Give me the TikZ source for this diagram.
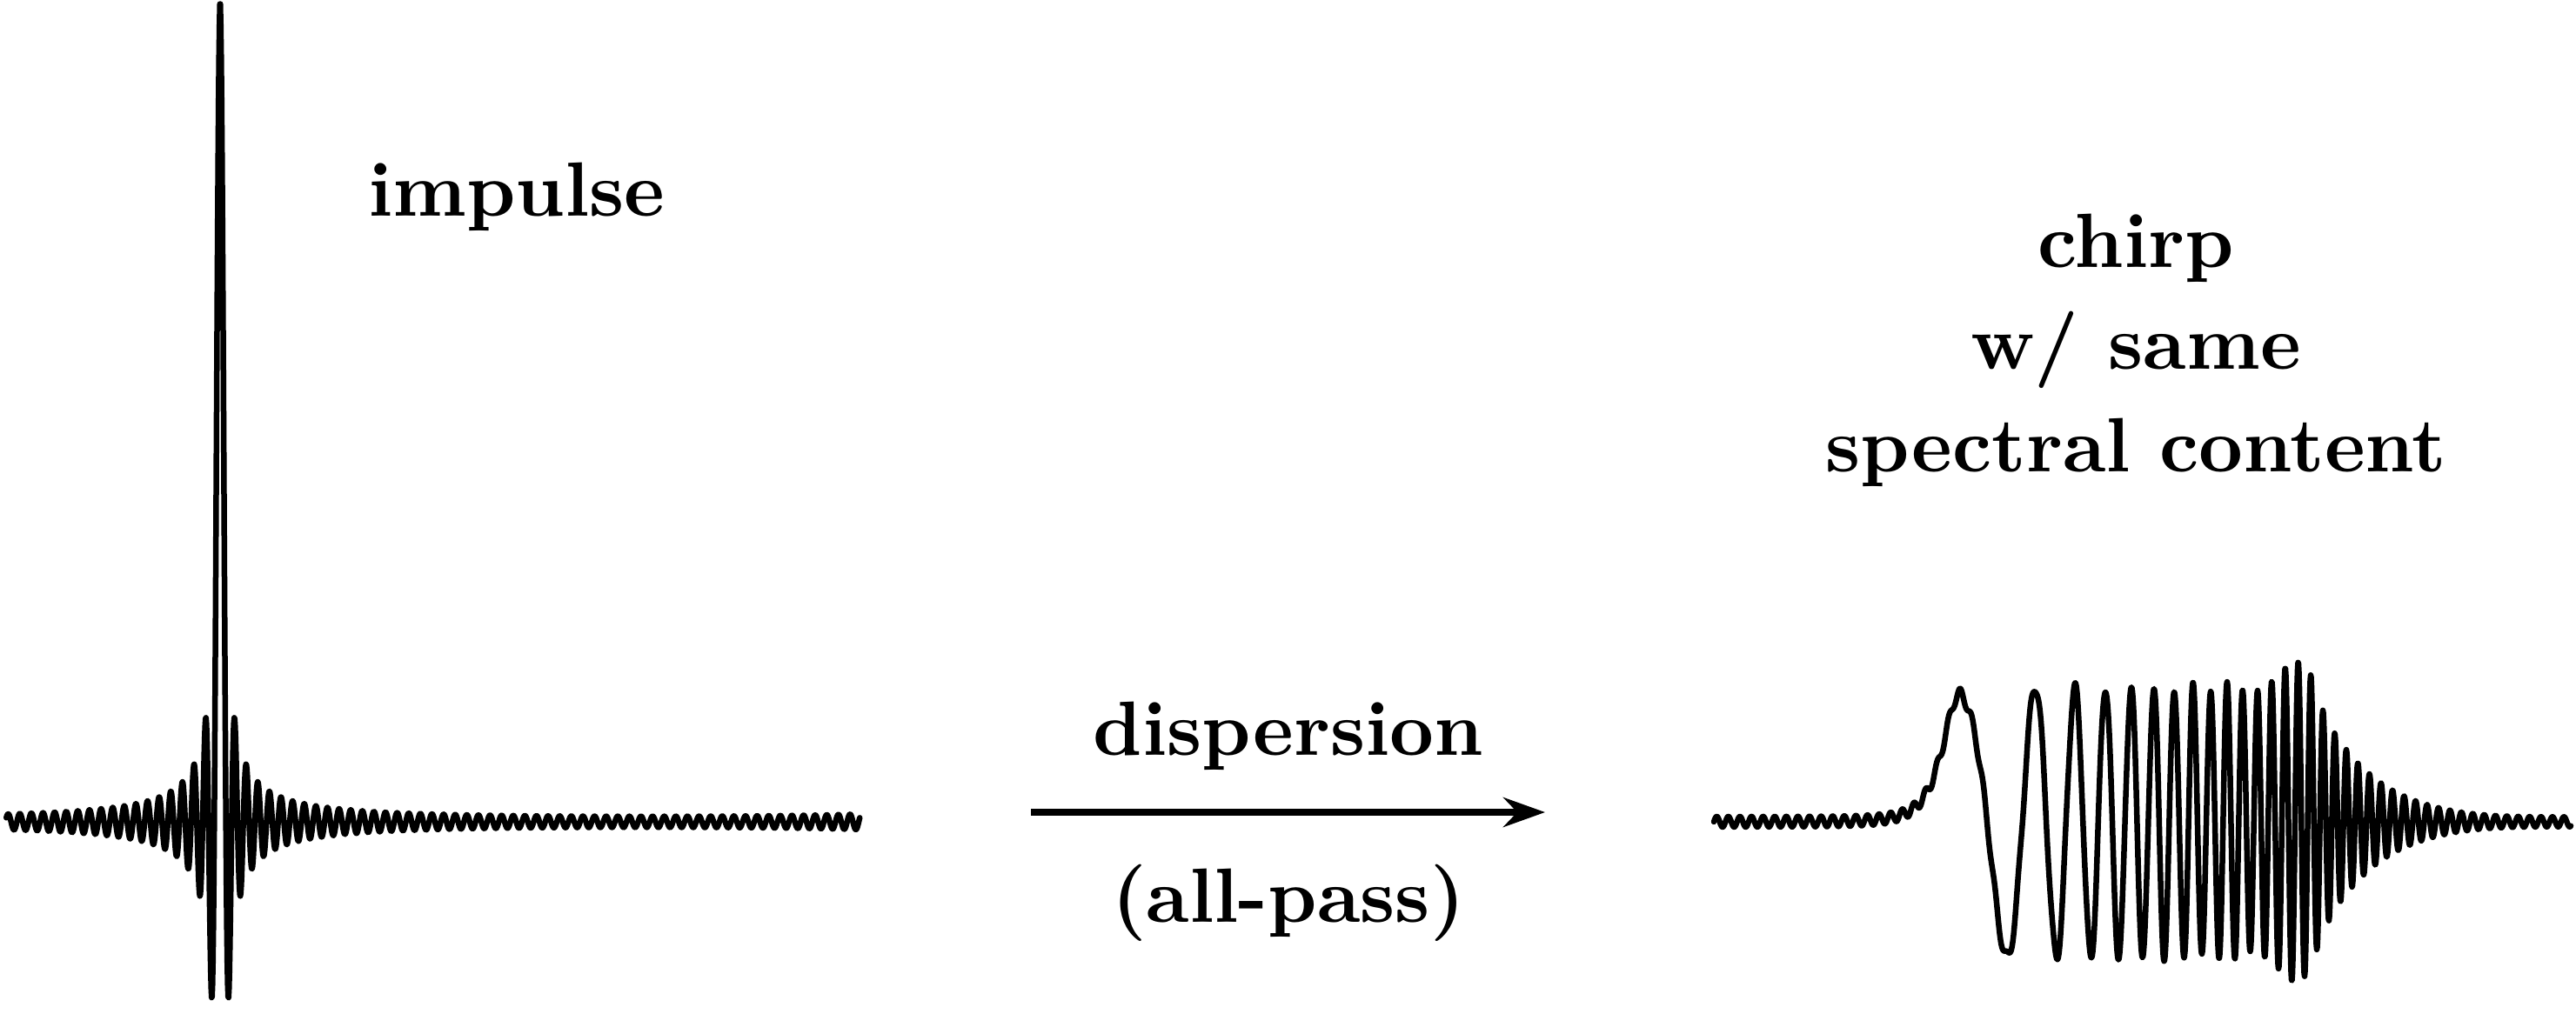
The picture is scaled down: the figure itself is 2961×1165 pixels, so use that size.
\documentclass[tikz,border=0pt]{standalone}
\usepackage{graphicx}
\usetikzlibrary{arrows.meta}
\newcommand\bigtxt[1]{\scalebox{8.85}{\bfseries #1}}
\tikzset{
  declare function={
    dirk(\x) = sin(180*mod((\x-253)/6.6735,2)) / (147*sin(0.183486*(\x-253)));
    erise(\t) = 1/((1+(min(\t-2255,0)/38)^2)^2);
    eenv(\t) = (155 + 25*exp(-min(((\t-2640)/20)^2,20))) * exp(-max(\t-2657,0)/66);
    uu(\t) = min(max(\t-2229,0),456.4);
    phc(\t) = 0.5*(uu(\t)/78)^2 + max(\t-2685.4,0)/13.33;
    chirpy(\t) = erise(\t)*eenv(\t)*cos(360*mod(phc(\t),1)) + 6*sin(360*mod((\t-1970)/13.33,1));
  },
  wave/.style={line width=6.5pt, line join=round, line cap=round},
  lbl/.style={inner sep=0pt, anchor=base},
  arr/.style={line width=7.5pt, -{Stealth[length=48pt,width=34pt,inset=16pt]}}
}
\begin{document}
\begin{tikzpicture}[x=1pt,y=-1pt]
  \useasboundingbox (0,0) rectangle (2961,1165);
  % impulse (periodic sinc)
  \draw[wave] plot[domain=7.25:988.25, samples=1963] ({\x},{945-934*dirk(\x)});
  % chirp
  \draw[wave] plot[domain=1970:2955, samples=1971] ({\x},{945-chirpy(\x)});
  % labels
  \node[lbl] (imp) at (594,248) {\bigtxt{impulse}};
  \node[lbl] (ch1) at (2455,307) {\bigtxt{chirp}};
  \node[lbl] (ch2) at (2455,424) {\bigtxt{w/ same}};
  \node[lbl] (ch3) at (2455,542) {\bigtxt{spectral content}};
  \node[lbl] (disp) at (1481,868) {\bigtxt{dispersion}};
  \node[lbl] (allp) at (1481,1060) {\bigtxt{(all-pass)}};
  % arrow
  \coordinate (a1) at (1185,934);
  \coordinate (a2) at (1776,934);
  \draw[arr] (a1) -- (a2);
\end{tikzpicture}
\end{document}
